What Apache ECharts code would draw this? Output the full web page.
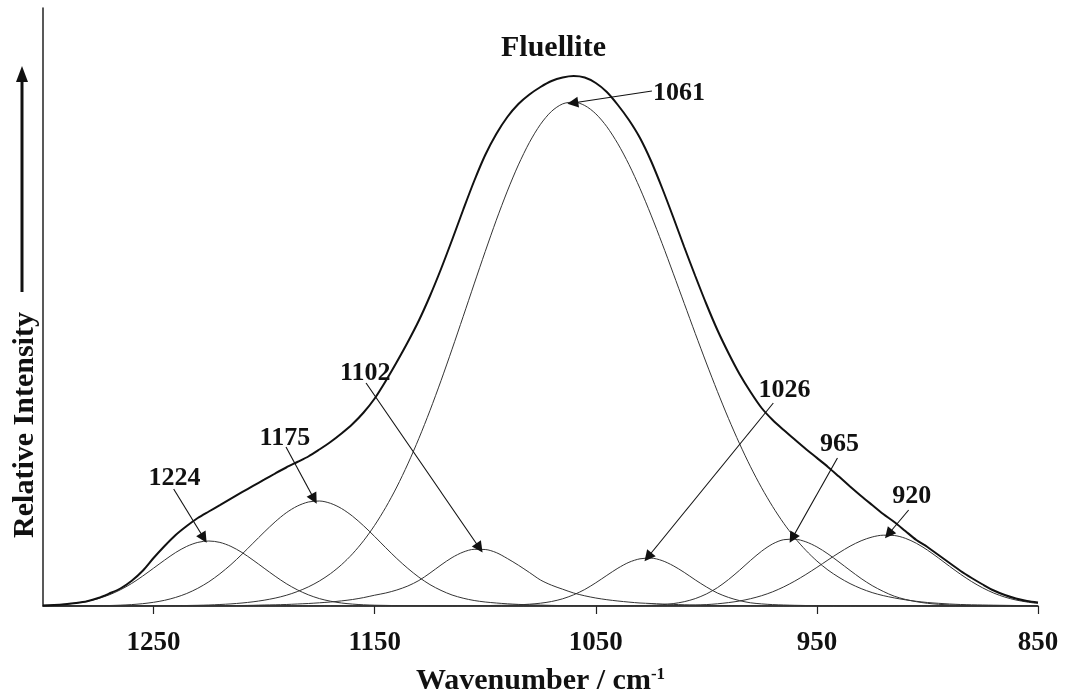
<!DOCTYPE html>
<html lang="en">
<head>
  <meta charset="UTF-8">
  <title>Fluellite</title>
  <script src="https://cdn.jsdelivr.net/npm/echarts/dist/echarts.min.js"></script>
  <style>
    html, body { margin: 0; padding: 0; background: #fff; }
    #wrap { width: 1071px; height: 697px; }
  </style>
</head>
<body>
<div id="wrap"></div>
<script>
  // wavenumber grid (cm-1), read every 5 cm-1, 10 per row
  const wavenumbers = [
    1300, 1295, 1290, 1285, 1280, 1275, 1270, 1265, 1260, 1255,
    1250, 1245, 1240, 1235, 1230, 1225, 1220, 1215, 1210, 1205,
    1200, 1195, 1190, 1185, 1180, 1175, 1170, 1165, 1160, 1155,
    1150, 1145, 1140, 1135, 1130, 1125, 1120, 1115, 1110, 1105,
    1100, 1095, 1090, 1085, 1080, 1075, 1070, 1065, 1060, 1055,
    1050, 1045, 1040, 1035, 1030, 1025, 1020, 1015, 1010, 1005,
    1000, 995, 990, 985, 980, 975, 970, 965, 960, 955,
    950, 945, 940, 935, 930, 925, 920, 915, 910, 905,
    900, 895, 890, 885, 880, 875, 870, 865, 860, 855,
    850]

  // measured envelope
  const envelope = [
    0.6, 1, 1.8, 3, 4.8, 8, 12.5, 17.5, 25, 35,
    48, 60, 71, 80, 88, 94.5, 100.8, 107.3, 113.8, 120.1,
    126.3, 132.5, 138.5, 144, 149.5, 156.5, 164, 172.5, 182, 193.5,
    207.5, 225, 244, 264, 285.5, 310, 337, 366, 396, 425,
    451, 472, 489, 502, 511.5, 519, 525, 528.5, 530, 528.5,
    523, 514, 501, 486, 468, 445, 418, 389, 359, 330,
    302, 276, 253, 232, 214, 198, 186, 176, 166.4, 157,
    148.1, 139.1, 129.4, 119.6, 110.1, 101, 92, 84, 75, 66,
    59, 51, 43, 35, 28, 21.5, 15.5, 11, 7.5, 5,
    3.5]

  // fitted component bands
  const band1224 = [
    0.6, 1, 1.8, 2.9, 4.8, 7.4, 11.2, 16.2, 22.4, 29.8,
    37.8, 45.9, 53.5, 59.6, 63.6, 65, 63.6, 59.6, 53.5, 45.9,
    37.8, 29.8, 22.4, 16.2, 11.2, 7.4, 4.8, 3, 1.9, 1.2,
    0.8, 0.6, 0.4, 0.3, 0.2, 0.1, 0, 0, 0, 0,
    0, 0, 0, 0, 0, 0, 0, 0, 0, 0,
    0, 0, 0, 0, 0, 0, 0, 0, 0, 0,
    0, 0, 0, 0, 0, 0, 0, 0, 0, 0,
    0, 0, 0, 0, 0, 0, 0, 0, 0, 0,
    0, 0, 0, 0, 0, 0, 0, 0, 0, 0,
    0]
  const band1175 = [
    0, 0, 0.05, 0.07, 0.14, 0.26, 0.47, 0.83, 1.4, 2.3,
    3.7, 5.7, 8.6, 12.5, 17.7, 24.2, 32.2, 41.4, 51.8, 62.8,
    73.8, 84.2, 93.2, 99.9, 104, 105, 102.7, 97.5, 89.8, 80.2,
    69.5, 58.3, 47.5, 37.6, 28.8, 21.4, 15.6, 11, 7.8, 5.5,
    4, 3, 2.2, 1.6, 1.2, 0.9, 0.6, 0.4, 0.3, 0.2,
    0.1, 0, 0, 0, 0, 0, 0, 0, 0, 0,
    0, 0, 0, 0, 0, 0, 0, 0, 0, 0,
    0, 0, 0, 0, 0, 0, 0, 0, 0, 0,
    0, 0, 0, 0, 0, 0, 0, 0, 0, 0,
    0]
  const band1102 = [
    0, 0, 0, 0, 0, 0, 0, 0, 0, 0,
    0, 0, 0, 0, 0, 0.1, 0.2, 0.35, 0.5, 0.7,
    1, 1.2, 1.5, 2, 2.5, 3.2, 4, 5.1, 6.5, 8.4,
    10.8, 13, 16, 20, 25.5, 32.9, 41, 48.4, 53.9, 56.7,
    56.5, 53.4, 47.5, 40.8, 33.5, 26, 20.8, 16.8, 13, 10.2,
    8, 6.3, 5, 3.9, 3, 2.5, 2, 1.6, 1.2, 0.9,
    0.7, 0.5, 0.4, 0.3, 0.2, 0.1, 0, 0, 0, 0,
    0, 0, 0, 0, 0, 0, 0, 0, 0, 0,
    0, 0, 0, 0, 0, 0, 0, 0, 0, 0,
    0]
  const band1061 = [
    0, 0, 0, 0, 0, 0, 0, 0.05, 0.07, 0.1,
    0.15, 0.2, 0.3, 0.5, 0.7, 1, 1.5, 2.1, 3, 4.2,
    5.8, 7.9, 10.7, 14.4, 19.1, 25, 32.3, 41.3, 52.2, 65.3,
    80.7, 98.6, 119, 142.1, 167.6, 195.4, 225.3, 256.8, 289.3, 322.1,
    354.5, 385.8, 414.9, 441.1, 463.6, 481.7, 494.7, 502.1, 503.9, 500.5,
    492.2, 479.3, 462.2, 441.5, 417.5, 390.9, 362.5, 332.8, 302.6, 272.5,
    243, 214.6, 187.6, 162.4, 139.2, 118.2, 99.4, 82.7, 68.2, 55.7,
    45, 36, 28.6, 22.4, 17.4, 13.4, 10.4, 8.1, 6.2, 4.7,
    3.5, 2.7, 2, 1.5, 1.2, 1, 0.8, 0.65, 0.5, 0.45,
    0.4]
  const band1026 = [
    0, 0, 0, 0, 0, 0, 0, 0, 0, 0,
    0, 0, 0, 0, 0, 0, 0, 0, 0, 0,
    0, 0, 0, 0, 0, 0, 0, 0, 0, 0,
    0, 0, 0, 0, 0, 0, 0, 0, 0.2, 0.3,
    0.4, 0.6, 0.8, 1.2, 1.8, 2.8, 4.5, 7.2, 11.2, 16.5,
    23.2, 30.6, 37.8, 43.7, 47.2, 47.9, 45.4, 40.3, 33.6, 26.1,
    19.1, 13, 8.6, 5.4, 3.2, 2.1, 1.4, 1, 0.7, 0.5,
    0.3, 0.2, 0.1, 0, 0, 0, 0, 0, 0, 0,
    0, 0, 0, 0, 0, 0, 0, 0, 0, 0,
    0]
  const band965 = [
    0, 0, 0, 0, 0, 0, 0, 0, 0, 0,
    0, 0, 0, 0, 0, 0, 0, 0, 0, 0,
    0, 0, 0, 0, 0, 0, 0, 0, 0, 0,
    0, 0, 0, 0, 0, 0, 0, 0, 0, 0,
    0, 0, 0, 0, 0, 0, 0, 0, 0, 0,
    0, 0, 0.1, 0.2, 0.4, 0.7, 1.3, 2.4, 4.3, 7.4,
    12, 18.3, 26.4, 35.7, 45.6, 54.8, 62.1, 66.3, 66.8, 64.2,
    59.1, 52.1, 44, 35.6, 27.5, 20.4, 14.6, 9.8, 6.6, 4.3,
    2.7, 1.7, 1.1, 0.7, 0.5, 0.3, 0.2, 0.15, 0.1, 0.05,
    0]
  const band920 = [
    0, 0, 0, 0, 0, 0, 0, 0, 0, 0,
    0, 0, 0, 0, 0, 0, 0, 0, 0, 0,
    0, 0, 0, 0, 0, 0, 0, 0, 0, 0,
    0, 0, 0, 0, 0, 0, 0, 0, 0, 0,
    0, 0, 0, 0, 0, 0, 0, 0, 0, 0,
    0, 0, 0, 0, 0, 0.2, 0.3, 0.45, 0.6, 0.9,
    1.4, 2.2, 3.4, 5, 7.3, 10.3, 14.2, 19.1, 24.9, 31.5,
    38.6, 46, 53.2, 59.8, 65.2, 69, 70.8, 70.5, 67.7, 62.7,
    55.9, 48, 39.7, 31.7, 24.4, 18.1, 12.9, 8.9, 6, 4,
    2.5]

  const bands = [band1224, band1175, band1102, band1061, band1026, band965, band920]

  // x tick labels
  const xTicks = [1250, 1150, 1050, 950, 850]

  // peak labels
  const peakNames = ['1224', '1175', '1102', '1061', '1026', '965', '920']

  // annotation layout in data space: label centre, arrow tail, arrow tip
  const annoLabel = [[1240.5, 128], [1190.6, 168], [1154.3, 233], [1012.4, 513], [964.7, 216], [939.8, 162], [907.1, 110]]
  const annoTail = [[1240.9, 117], [1190.1, 159], [1153.9, 223], [1024.6, 515], [969.7, 203], [940.7, 148], [908.5, 96]]
  const annoTip = [[1227.3, 68], [1177.4, 107], [1102.6, 58], [1060.4, 503], [1026.4, 49], [961.1, 68], [917.6, 72]]

  const serif = '"Liberation Serif", "Times New Roman", serif'
  const pts = vals => wavenumbers.map((w, i) => [w, vals[i]])

  const chart = echarts.init(document.querySelector('#wrap'))

  const series = bands.map(b => ({
    type: 'line',
    data: pts(b),
    smooth: 0.3,
    symbol: 'none',
    silent: true,
    lineStyle: { color: '#333', width: 1 }
  }))

  series.push({
    type: 'line',
    data: pts(envelope),
    smooth: 0.3,
    symbol: 'none',
    silent: true,
    z: 3,
    lineStyle: { color: '#111', width: 2 },
    markLine: {
      silent: true,
      animation: false,
      symbol: ['none', 'triangle'],
      symbolSize: 11,
      label: { show: false },
      lineStyle: { color: '#111', width: 1.1, type: 'solid' },
      data: annoTail.map((t, i) => [{ coord: t }, { coord: annoTip[i] }])
    },
    markPoint: {
      silent: true,
      animation: false,
      symbol: 'circle',
      symbolSize: 0,
      label: {
        show: true,
        position: 'inside',
        formatter: p => p.name,
        color: '#111',
        fontFamily: serif,
        fontWeight: 'bold',
        fontSize: 26
      },
      data: annoLabel.map((c, i) => ({ name: peakNames[i], coord: c }))
    }
  })

  const ops = {
    animation: false,
    title: {
      text: 'Fluellite',
      left: 496,
      top: 28,
      textStyle: { fontFamily: serif, fontWeight: 'bold', fontSize: 30, color: '#111' }
    },
    grid: { left: 43, right: 33, top: 8, bottom: 91, outerBoundsMode: 'none' },
    xAxis: {
      type: 'value',
      min: 850,
      max: 1300,
      inverse: true,
      splitLine: { show: false },
      axisLine: { lineStyle: { color: '#222', width: 1.5 } },
      axisTick: { customValues: xTicks, length: 8, lineStyle: { color: '#222', width: 1.2 } },
      axisLabel: {
        customValues: xTicks,
        formatter: v => String(v),
        margin: 24,
        color: '#111',
        fontFamily: serif,
        fontWeight: 'bold',
        fontSize: 27
      },
      name: '{t|Wavenumber / cm}{s|-1}',
      nameLocation: 'middle',
      nameGap: 60,
      nameTextStyle: {
        rich: {
          t: { fontFamily: serif, fontWeight: 'bold', fontSize: 30, color: '#111' },
          s: { fontFamily: serif, fontWeight: 'bold', fontSize: 17, color: '#111', verticalAlign: 'top', padding: [0, 0, 10, 0] }
        }
      }
    },
    yAxis: {
      type: 'value',
      min: 0,
      max: 598,
      splitLine: { show: false },
      axisTick: { show: false },
      axisLabel: { show: false },
      axisLine: { show: true, lineStyle: { color: '#222', width: 1.5 } }
    },
    graphic: [
      {
        type: 'text',
        x: 25,
        y: 425,
        rotation: Math.PI / 2,
        style: {
          text: 'Relative Intensity',
          fill: '#111',
          font: 'bold 30px ' + serif,
          textAlign: 'center',
          textVerticalAlign: 'middle'
        }
      },
      {
        type: 'line',
        shape: { x1: 22, y1: 292, x2: 22, y2: 80 },
        style: { stroke: '#111', lineWidth: 3 }
      },
      {
        type: 'polygon',
        shape: { points: [[16, 82], [28, 82], [22, 66]] },
        style: { fill: '#111' }
      }
    ],
    series: series
  }

  chart.setOption(ops)
</script>
</body>
</html>
